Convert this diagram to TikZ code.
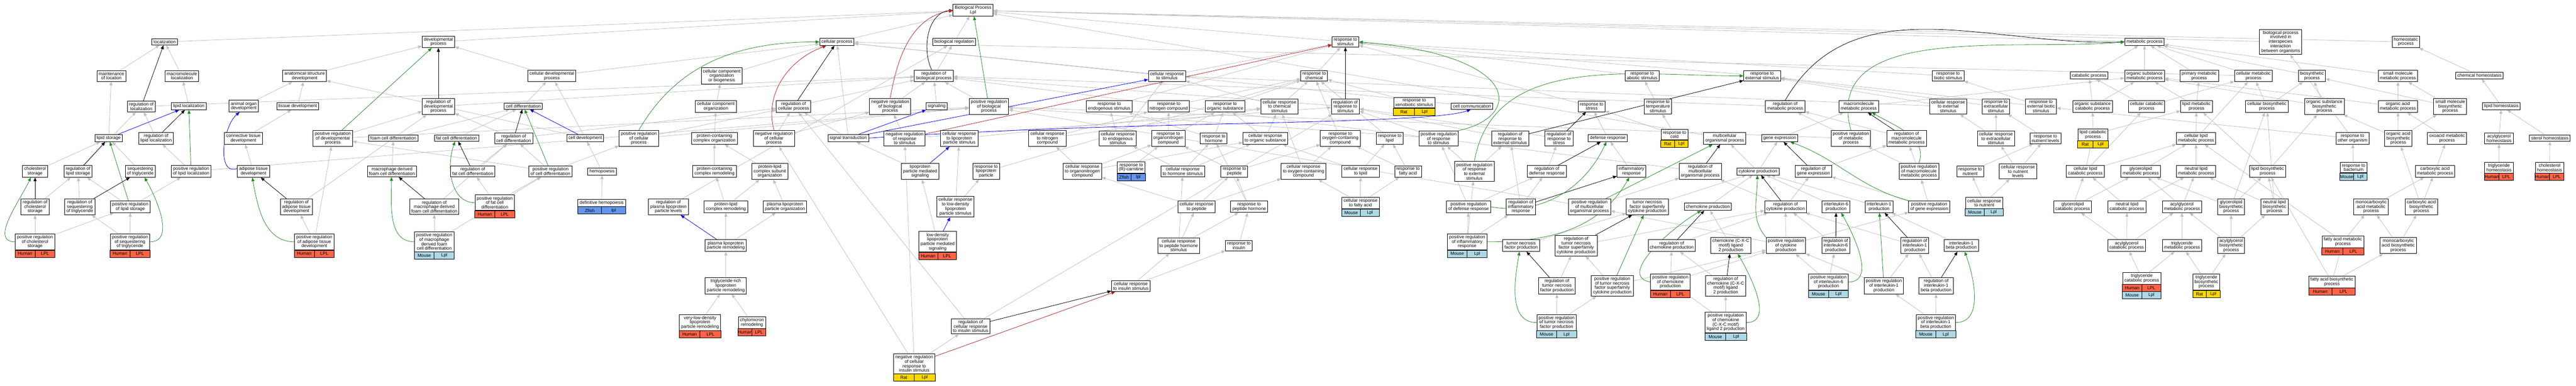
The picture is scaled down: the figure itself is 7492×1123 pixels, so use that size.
\documentclass[tikz,border=0pt]{standalone}
\usepackage{fontspec}
\setmainfont{Liberation Sans}
\usetikzlibrary{arrows.meta,calc}
\pgfdeclarelayer{back}
\pgfdeclarelayer{bg}
\pgfsetlayers{back,bg,main}
\definecolor{eg}{HTML}{C0C0C0}
\definecolor{eb}{HTML}{0000FF}
\definecolor{egr}{HTML}{228B22}
\definecolor{er}{HTML}{B22222}
\definecolor{hum}{HTML}{FF6347}
\definecolor{mou}{HTML}{ADD8E6}
\definecolor{rat}{HTML}{FFD700}
\definecolor{zf}{HTML}{6495ED}
\tikzset{
 box/.style={draw, line width=1.3pt, fill=white, align=center, inner xsep=5pt, inner ysep=4.5pt, font=\fontsize{13}{13}\selectfont},
 celltxt/.style={inner sep=0pt, font=\fontsize{13}{13}\selectfont},
 edge/.style={line width=1.2pt, -{Triangle[length=11pt,width=9pt]}},
 isa/.style={edge, color=eg},
 regl/.style={edge, color=black},
 posr/.style={edge, color=egr},
 negr/.style={edge, color=er},
 partof/.style={edge, color=eb}
}
\newcommand\gcells[5]{%
  \draw[line width=1.3pt, fill=#2] ($(#1.south west)+(0,#5)$) rectangle ($(#1.south east)+(0,#5+21)$);
  \draw[line width=1.3pt] ($(#1.south)+(0,#5)$) -- ++(0,21);
  \node[celltxt] at ($(#1.south west)!0.25!(#1.south east)+(0,#5+10.5)$) {#3};
  \node[celltxt] at ($(#1.south west)!0.75!(#1.south east)+(0,#5+10.5)$) {#4};}
\newcommand\gbox[7]{%
  \node[box] (#1) at (#2,#3) {#4};
  \gcells{#1}{#5}{#6}{#7}{0}}
\begin{document}
\begin{tikzpicture}[x=1pt,y=-1pt]
\useasboundingbox (0,0) rectangle (7492,1123);
\begin{pgfonlayer}{back}
\fill[white] (0,0) rectangle (7492,1123);
\end{pgfonlayer}
% row 0
\node[box] (root) at (2830,30) {Biological Process\\Lpl};
% row 1
\node[box] (loc) at (479,122) {localization};
\node[box] (devp) at (1275,122) {developmental\\process};
\node[box] (cproc) at (2434,122) {cellular process};
\node[box] (breg) at (2775,122) {biological regulation};
\node[box] (rstim) at (3913,122) {response to\\stimulus};
\node[box] (mproc) at (6237,122) {metabolic process};
\node[box] (bpint) at (6633,122) {biological process\\involved in\\interspecies\\interaction\\between organisms};
\node[box] (homp) at (6997,122) {homeostatic\\process};
% row 2
\node[box] (mloc) at (324,221) {maintenance\\of location};
\node[box] (macloc) at (529,221) {macromolecule\\localization};
\node[box] (asd) at (886,221) {anatomical structure\\development};
\node[box] (cdevp) at (1605,221) {cellular developmental\\process};
\node[box] (ccob) at (2099,221) {cellular component\\organization\\or biogenesis};
\node[box] (rbp) at (2716,221) {regulation of\\biological process};
\node[box] (crs) at (3394,221) {cellular response\\to stimulus};
\node[box] (rchem) at (3822,221) {response to\\chemical};
\node[box] (rabio) at (4776,221) {response to\\abiotic stimulus};
\node[box] (rext) at (5125,221) {response to\\external stimulus};
\node[box] (rbio) at (5666,221) {response to\\biotic stimulus};
\node[box] (catp) at (6076,220) {catabolic process};
\node[box] (osmp) at (6237,221) {organic substance\\metabolic process};
\node[box] (pmp) at (6396,221) {primary metabolic\\process};
\node[box] (cmp) at (6554,221) {cellular metabolic\\process};
\node[box] (bsp) at (6724,221) {biosynthetic\\process};
\node[box] (smmp) at (6974,221) {small molecule\\metabolic process};
\node[box] (chom) at (7211,220) {chemical homeostasis};
% row 3
\node[box] (rloc) at (411,310) {regulation of\\localization};
\node[box] (lloc) at (549,309) {lipid localization};
\node[box] (aod) at (709,309) {animal organ\\development};
\node[box] (tisd) at (866,309) {tissue development};
\node[box] (rdevp) at (1275,310) {regulation of\\developmental\\process};
\node[box] (cdiff) at (1522,309) {cell differentiation};
\node[box] (cco) at (2082,310) {cellular component\\organization};
\node[box] (rcp) at (2308,310) {regulation of\\cellular process};
\node[box] (nrbp) at (2589,310) {negative regulation\\of biological\\process};
\node[box] (sig) at (2724,309) {signaling};
\node[box] (prbp) at (2876,310) {positive regulation\\of biological\\process};
\node[box] (rendo) at (3226,310) {response to\\endogenous stimulus};
\node[box] (rnit) at (3399,310) {response to\\nitrogen compound};
\node[box] (rorg) at (3563,310) {response to\\organic substance};
\node[box] (crchem) at (3721,310) {cellular response\\to chemical\\stimulus};
\node[box] (rrs) at (3913,310) {regulation of\\response to\\stimulus};
\gbox{rxeno}{4113}{299}{response to\\xenobiotic stimulus}{rat}{Rat}{Lpl}
\node[box] (ccom) at (4281,309) {cell communication};
\node[box] (rstress) at (4629,310) {response to\\stress};
\node[box] (rtemp) at (4822,310) {response to\\temperature\\stimulus};
\node[box] (rmp) at (5192,310) {regulation of\\metabolic process};
\node[box] (mmp) at (5406,310) {macromolecule\\metabolic process};
\node[box] (crext) at (5666,310) {cellular response\\to external\\stimulus};
\node[box] (rextra) at (5805,310) {response to\\extracellular\\stimulus};
\node[box] (rextbio) at (5936,310) {response to\\external biotic\\stimulus};
\node[box] (oscp) at (6086,310) {organic substance\\catabolic process};
\node[box] (ccp) at (6243,310) {cellular catabolic\\process};
\node[box] (lmp) at (6388,310) {lipid metabolic\\process};
\node[box] (cbsp) at (6593,310) {cellular biosynthetic\\process};
\node[box] (osbp) at (6760,310) {organic substance\\biosynthetic\\process};
\node[box] (oamp) at (6974,310) {organic acid\\metabolic process};
\node[box] (smbp) at (7126,310) {small molecule\\biosynthetic\\process};
\node[box] (lhom) at (7275,309) {lipid homeostasis};
% row 4
\node[box] (lsto) at (316,402) {lipid storage};
\node[box] (rlloc) at (454,403) {regulation of\\lipid localization};
\node[box] (ctd) at (708,403) {connective tissue\\development};
\node[box] (prdevp) at (968,403) {positive regulation\\of developmental\\process};
\node[box] (fcd) at (1144,402) {foam cell differentiation};
\node[box] (fatcd) at (1328,402) {fat cell differentiation};
\node[box] (rcd) at (1494,403) {regulation of\\cell differentiation};
\node[box] (celldev) at (1702,402) {cell development};
\node[box] (prcellp) at (1858,403) {positive regulation\\of cellular\\process};
\node[box] (pcco) at (2078,403) {protein-containing\\complex organization};
\node[box] (nrcp) at (2251,403) {negative regulation\\of cellular\\process};
\node[box] (sigt) at (2467,402) {signal transduction};
\node[box] (nrrs) at (2631,403) {negative regulation\\of response\\to stimulus};
\node[box] (crlp) at (2790,403) {cellular response\\to lipoprotein\\particle stimulus};
\node[box] (crnit) at (3046,403) {cellular response\\to nitrogen\\compound};
\node[box] (crendo) at (3251,403) {cellular response\\to endogenous\\stimulus};
\node[box] (rorgn) at (3398,403) {response to\\organonitrogen\\compound};
\node[box] (rhorm) at (3530,403) {response to\\hormone};
\node[box] (crorg) at (3680,403) {cellular response\\to organic substance};
\node[box] (roxy) at (3898,403) {response to\\oxygen-containing\\compound};
\node[box] (rlip) at (4042,403) {response to\\lipid};
\node[box] (prrs) at (4184,403) {positive regulation\\of response\\to stimulus};
\node[box] (rres) at (4392,403) {regulation of\\response to\\external stimulus};
\node[box] (rrstress) at (4534,403) {regulation of\\response to\\stress};
\node[box] (defr) at (4676,402) {defense response};
\gbox{rcold}{4870}{392}{response to\\cold}{rat}{Rat}{Lpl}
\node[box] (mcop) at (5016,403) {multicellular\\organismal process};
\node[box] (gexp) at (5176,402) {gene expression};
\node[box] (prmp) at (5383,403) {positive regulation\\of metabolic\\process};
\node[box] (rmmp) at (5545,403) {regulation of\\macromolecule\\metabolic process};
\node[box] (crextra) at (5805,403) {cellular response\\to extracellular\\stimulus};
\node[box] (rnutl) at (5949,403) {response to\\nutrient levels};
\gbox{lcat}{6087}{392}{lipid catabolic\\process}{rat}{Rat}{Lpl}
\node[box] (clmp) at (6387,403) {cellular lipid\\metabolic process};
\node[box] (roth) at (6842,403) {response to\\other organism};
\node[box] (oabp) at (6975,403) {organic acid\\biosynthetic\\process};
\node[box] (oxmp) at (7117,403) {oxoacid metabolic\\process};
\node[box] (aghom) at (7268,403) {acylglycerol\\homeostasis};
\node[box] (sthom) at (7416,402) {sterol homeostasis};
% row 5
\node[box] (chsto) at (102,499) {cholesterol\\storage};
\node[box] (rlsto) at (227,499) {regulation of\\lipid storage};
\node[box] (seqt) at (408,499) {sequestering\\of triglyceride};
\node[box] (prlloc) at (556,499) {positive regulation\\of lipid localization};
\node[box] (atd) at (737,499) {adipose tissue\\development};
\node[box] (mdfcd) at (1140,499) {macrophage derived\\foam cell differentiation};
\node[box] (rfatcd) at (1375,499) {regulation of\\fat cell differentiation};
\node[box] (prcd) at (1601,499) {positive regulation\\of cell differentiation};
\node[box] (hemo) at (1751,499) {hemopoiesis};
\node[box] (pcr) at (2078,499) {protein-containing\\complex remodeling};
\node[box] (plcso) at (2239,499) {protein-lipid\\complex subunit\\organization};
\node[box] (lpms) at (2676,499) {lipoprotein\\particle mediated\\signaling};
\node[box] (rlp) at (2868,499) {response to\\lipoprotein\\particle};
\node[box] (crorgn) at (3148,499) {cellular response\\to organonitrogen\\compound};
\gbox{rcarn}{3290}{488}{response to\\(R)-carnitine}{zf}{Zfish}{lpl}
\node[box] (crhorm) at (3440,499) {cellular response\\to hormone stimulus};
\node[box] (rpep) at (3590,499) {response to\\peptide};
\node[box] (croxy) at (3791,499) {cellular response\\to oxygen-containing\\compound};
\node[box] (crlip) at (3957,499) {cellular response\\to lipid};
\node[box] (rfa) at (4095,499) {response to\\fatty acid};
\node[box] (prres) at (4288,499) {positive regulation\\of response\\to external\\stimulus};
\node[box] (rdef) at (4499,499) {regulation of\\defense response};
\node[box] (infl) at (4745,499) {inflammatory\\response};
\node[box] (rmcop) at (4945,499) {regulation of\\multicellular\\organismal process};
\node[box] (cytp) at (5113,499) {cytokine production};
\node[box] (rgexp) at (5274,499) {regulation of\\gene expression};
\node[box] (prmmp) at (5581,499) {positive regulation\\of macromolecule\\metabolic process};
\node[box] (rnut) at (5730,499) {response to\\nutrient};
\node[box] (crnutl) at (5869,499) {cellular response\\to nutrient\\levels};
\node[box] (clcat) at (6065,499) {cellular lipid\\catabolic process};
\node[box] (glmp) at (6226,499) {glycerolipid\\metabolic process};
\node[box] (nlmp) at (6387,499) {neutral lipid\\metabolic process};
\node[box] (lbsp) at (6595,499) {lipid biosynthetic\\process};
\gbox{rbact}{6845}{488}{response to\\bacterium}{mou}{Mouse}{Lpl}
\node[box] (camp) at (7082,499) {carboxylic acid\\metabolic process};
\gbox{tghom}{7268}{488}{triglyceride\\homeostasis}{hum}{Human}{LPL}
\gbox{chhom}{7415}{488}{cholesterol\\homeostasis}{hum}{Human}{LPL}
% row 6
\node[box] (rchsto) at (102,602) {regulation of\\cholesterol\\storage};
\node[box] (rseqt) at (232,602) {regulation of\\sequestering\\of triglyceride};
\node[box] (prlsto) at (379,602) {positive regulation\\of lipid storage};
\node[box] (ratd) at (862,602) {regulation of\\adipose tissue\\development};
\node[box] (rmdfcd) at (1263,602) {regulation of\\macrophage derived\\foam cell differentiation};
\gbox{prfatcd}{1439}{590}{positive regulation\\of fat cell\\differentiation}{hum}{Human}{LPL}
\gbox{defhemo}{1750}{591}{definitive hemopoiesis}{zf}{Zfish}{lpl}
\node[box] (rplpl) at (1944,602) {regulation of\\plasma lipoprotein\\particle levels};
\node[box] (plcr) at (2111,602) {protein-lipid\\complex remodeling};
\node[box] (plpo) at (2283,602) {plasma lipoprotein\\particle organization};
\node[box] (crldl) at (2779,602) {cellular response\\to low-density\\lipoprotein\\particle stimulus};
\node[box] (crpep) at (3480,602) {cellular response\\to peptide};
\node[box] (rph) at (3633,602) {response to\\peptide hormone};
\gbox{crfa}{3957}{591}{cellular response\\to fatty acid}{mou}{Mouse}{Lpl}
\node[box] (prdef) at (4271,602) {positive regulation\\of defense response};
\node[box] (rinfl) at (4423,602) {regulation of\\inflammatory\\response};
\node[box] (prmcop) at (4623,602) {positive regulation\\of multicellular\\organismal process};
\node[box] (tnfsf) at (4791,602) {tumor necrosis\\factor superfamily\\cytokine production};
\node[box] (chemp) at (4967,602) {chemokine production};
\node[box] (rcytp) at (5193,602) {regulation of\\cytokine production};
\node[box] (il6p) at (5340,602) {interleukin-6\\production};
\node[box] (il1p) at (5465,602) {interleukin-1\\production};
\node[box] (prgexp) at (5611,602) {positive regulation\\of gene expression};
\gbox{crnut}{5771}{591}{cellular response\\to nutrient}{mou}{Mouse}{Lpl}
\node[box] (glcat) at (6028,602) {glycerolipid\\catabolic process};
\node[box] (nlcat) at (6186,602) {neutral lipid\\catabolic process};
\node[box] (agmp) at (6346,602) {acylglycerol\\metabolic process};
\node[box] (glbsp) at (6489,602) {glycerolipid\\biosynthetic\\process};
\node[box] (nlbsp) at (6615,602) {neutral lipid\\biosynthetic\\process};
\node[box] (mcamp) at (6896,602) {monocarboxylic\\acid metabolic\\process};
\node[box] (cabsp) at (7042,602) {carboxylic acid\\biosynthetic\\process};
% row 7
\gbox{prchsto}{102}{704}{positive regulation\\of cholesterol\\storage}{hum}{Human}{LPL}
\gbox{prseqt}{378}{704}{positive regulation\\of sequestering\\of triglyceride}{hum}{Human}{LPL}
\gbox{pratd}{914}{704}{positive regulation\\of adipose tissue\\development}{hum}{Human}{LPL}
\gbox{prmdfcd}{1263}{704}{positive regulation\\of macrophage\\derived foam\\cell differentiation}{mou}{Mouse}{Lpl}
\node[box] (plpr) at (2111,715) {plasma lipoprotein\\particle remodeling};
\gbox{ldlsig}{2727}{704}{low-density\\lipoprotein\\particle mediated\\signaling}{hum}{Human}{LPL}
\node[box] (crphs) at (3428,715) {cellular response\\to peptide hormone\\stimulus};
\node[box] (rins) at (3603,715) {response to\\insulin};
\gbox{prinfl}{4267}{704}{positive regulation\\of inflammatory\\response}{mou}{Mouse}{Lpl}
\node[box] (tnfp) at (4424,715) {tumor necrosis\\factor production};
\node[box] (rtnfsf) at (4584,715) {regulation of\\tumor necrosis\\factor superfamily\\cytokine production};
\node[box] (rchemp) at (4862,715) {regulation of\\chemokine production};
\node[box] (cxcl2) at (5034,715) {chemokine (C-X-C\\motif) ligand\\2 production};
\node[box] (prcytp) at (5194,715) {positive regulation\\of cytokine\\production};
\node[box] (ril6) at (5339,715) {regulation of\\interleukin-6\\production};
\node[box] (ril1) at (5569,715) {regulation of\\interleukin-1\\production};
\node[box] (il1bp) at (5704,715) {interleukin-1\\beta production};
\node[box] (agcat) at (6185,715) {acylglycerol\\catabolic process};
\node[box] (tgmp) at (6346,715) {triglyceride\\metabolic process};
\node[box] (agbsp) at (6489,715) {acylglycerol\\biosynthetic\\process};
\gbox{famp}{6814}{704}{fatty acid metabolic\\process}{hum}{Human}{LPL}
\node[box] (mcabsp) at (6975,715) {monocarboxylic\\acid biosynthetic\\process};
% row 8
\node[box] (tgrich) at (2111,832) {triglyceride-rich\\lipoprotein\\particle remodeling};
\node[box] (crins) at (3289,833) {cellular response\\to insulin stimulus};
\node[box] (rtnf) at (4528,832) {regulation of\\tumor necrosis\\factor production};
\node[box] (prtnfsf) at (4689,832) {positive regulation\\of tumor necrosis\\factor superfamily\\cytokine production};
\gbox{prchemp}{4858}{821}{positive regulation\\of chemokine\\production}{hum}{Human}{LPL}
\node[box] (rcxcl2) at (5019,832) {regulation of\\chemokine (C-X-C\\motif) ligand\\2 production};
\gbox{pril6}{5318}{821}{positive regulation\\of interleukin-6\\production}{mou}{Mouse}{Lpl}
\node[box] (pril1) at (5479,832) {positive regulation\\of interleukin-1\\production};
\node[box] (ril1b) at (5631,832) {regulation of\\interleukin-1\\beta production};
\gbox{tgcat}{6229}{810}{triglyceride\\catabolic process}{hum}{Human}{LPL}
\gcells{tgcat}{mou}{Mouse}{Lpl}{21}
\gbox{tgbsp}{6417}{821}{triglyceride\\biosynthetic\\process}{rat}{Rat}{Lpl}
\gbox{fabsp}{6782}{821}{fatty acid biosynthetic\\process}{hum}{Human}{LPL}
% row 9
\gbox{vldl}{2036}{939}{very-low-density\\lipoprotein\\particle remodeling}{hum}{Human}{LPL}
\gbox{chylo}{2187}{939}{chylomicron\\remodeling}{hum}{Human}{LPL}
\node[box] (rcris) at (2823,950) {regulation of\\cellular response\\to insulin stimulus};
\gbox{prtnf}{4527}{939}{positive regulation\\of tumor necrosis\\factor production}{mou}{Mouse}{Lpl}
\gbox{prcxcl2}{5019}{939}{positive regulation\\of chemokine\\(C-X-C motif)\\ligand 2 production}{mou}{Mouse}{Lpl}
\gbox{pril1b}{5630}{939}{positive regulation\\of interleukin-1\\beta production}{mou}{Mouse}{Lpl}
% row 10
\gbox{nrcris}{2659}{1059}{negative regulation\\of cellular\\response to\\insulin stimulus}{rat}{Rat}{Lpl}

\begin{pgfonlayer}{bg}
\foreach \a/\b in {mloc/loc, macloc/loc, lloc/macloc, rloc/rbp, loc/root, lsto/mloc, rlloc/rloc, chsto/lsto, rlsto/rloc, seqt/lsto, prlloc/rlloc, prlloc/prbp, rchsto/rlsto, rseqt/rlsto, prlsto/rlsto, prlsto/prlloc, prchsto/rchsto, prchsto/prlsto, prseqt/prlsto, prseqt/rseqt,
asd/devp, aod/asd, tisd/asd, ctd/tisd, atd/ctd, ratd/rdevp, prdevp/rdevp, prdevp/prbp, fcd/cdiff, mdfcd/fcd, rmdfcd/rcd, pratd/ratd, pratd/prdevp, prmdfcd/rmdfcd, prmdfcd/prcd,
devp/root, rdevp/rbp, cdevp/devp, cdevp/cproc, cdiff/cdevp, celldev/cdevp, celldev/asd, fatcd/cdiff, rcd/rdevp, rcd/rcp, rfatcd/rcd, prcd/rcd, prcd/prcellp, prcd/prdevp, hemo/celldev, defhemo/hemo, prfatcd/rfatcd, prfatcd/prcd, prcellp/rcp, prcellp/prbp,
cproc/root, ccob/cproc, cco/ccob, rcp/rbp, nrcp/rcp, nrcp/nrbp, sigt/cproc, sigt/rcp, pcco/cco, pcr/pcco, plcso/pcco, rplpl/breg, plcr/pcr, plcr/plcso, plpo/plcso, plpr/plcr, plpr/plpo, tgrich/plpr, vldl/tgrich, chylo/tgrich,
breg/root, rbp/breg, nrbp/rbp, sig/rbp, prbp/rbp, nrrs/nrbp, nrrs/rrs, lpms/sigt, crlp/crchem, crldl/crlp, crldl/rlp, rlp/rchem, crnit/rnit, crnit/crchem, crorgn/crnit, crorgn/rorgn, crorgn/crorg, ldlsig/lpms, rcris/rcp, rcris/rrs, nrcris/rcris, nrcris/nrcp, nrcris/nrrs,
crs/rstim, crs/cproc, rendo/rstim, rnit/rchem, rorg/rchem, crchem/rchem, crchem/crs, crendo/rendo, crendo/crs, rorgn/rnit, rorgn/rorg, rhorm/rendo, rhorm/rorg, crorg/rorg, crorg/crchem, rcarn/rorgn, crhorm/rhorm, crhorm/crendo, crhorm/crorg, rpep/rorgn, rpep/roxy, crpep/rpep, crpep/crorgn, crpep/croxy, rph/rpep, rph/rhorm, crphs/crpep, crphs/rph, crphs/crhorm, rins/rph, crins/crphs, crins/rins,
rstim/root, rchem/rstim, rrs/rbp, rxeno/rchem, ccom/cproc, roxy/rchem, rlip/rchem, croxy/roxy, croxy/crchem, prrs/rrs, prrs/prbp, rres/rrs, crlip/rlip, crlip/crorg, rfa/rlip, rfa/roxy, crfa/crlip, crfa/rfa, crfa/croxy, prres/prrs, prres/rres, prdef/prrs, prdef/rdef, prinfl/prdef, prinfl/prres, prinfl/rinfl,
rabio/rstim, rstress/rstim, rtemp/rabio, rcold/rtemp, rcold/rstress, rrstress/rrs, defr/rstress, infl/defr, rdef/rrstress, rinfl/rdef, rinfl/rres, mcop/root, rmcop/rbp, prmcop/rmcop, prmcop/prbp, tnfsf/cytp, chemp/cytp, tnfp/tnfsf, rtnfsf/rcytp, rchemp/rcytp, cxcl2/chemp, rtnf/rtnfsf, prtnfsf/rtnfsf, prtnfsf/prcytp, prchemp/rchemp, prchemp/prcytp, rcxcl2/rchemp, prtnf/rtnf, prtnf/prtnfsf, prcxcl2/rcxcl2, prcxcl2/prchemp,
rext/rstim, rmp/rbp, mmp/osmp, gexp/mmp, prmp/rmp, prmp/prbp, rmmp/rmp, cytp/mcop, cytp/gexp, rgexp/rmmp, prmmp/rmmp, prmmp/prmp, rcytp/rgexp, rcytp/rmcop, il6p/cytp, il1p/cytp, prgexp/rgexp, prgexp/prmmp, prcytp/rcytp, prcytp/prmcop, prcytp/prgexp, ril6/rcytp, ril1/rcytp, pril6/ril6, pril6/prcytp, pril1/ril1, pril1/prcytp, ril1b/ril1, pril1b/pril1, pril1b/ril1b, il1bp/il1p,
mproc/root, catp/mproc, osmp/mproc, rbio/rstim, crext/rext, crext/crs, rextra/rext, rextbio/rbio, rextbio/rext, oscp/catp, oscp/osmp, ccp/catp, ccp/cmp, crextra/rextra, crextra/crext, rnutl/rextra, lcat/oscp, lcat/lmp, rnut/rnutl, crnutl/rnutl, crnutl/crextra, clcat/lcat, clcat/ccp, clcat/clmp, glmp/clmp, crnut/rnut, crnut/crnutl, glcat/clcat, glcat/glmp, nlcat/clcat, nlcat/nlmp, agcat/glcat, agcat/nlcat, agcat/agmp, tgcat/agcat, tgcat/tgmp,
bpint/root, pmp/mproc, cmp/mproc, cmp/cproc, bsp/mproc, lmp/pmp, lmp/osmp, cbsp/cmp, cbsp/bsp, osbp/bsp, osbp/osmp, clmp/lmp, clmp/cmp, roth/bpint, roth/rextbio, nlmp/clmp, lbsp/lmp, lbsp/osbp, rbact/roth, agmp/nlmp, agmp/glmp, glbsp/lbsp, glbsp/glmp, glbsp/cbsp, nlbsp/lbsp, nlbsp/nlmp, nlbsp/cbsp, mcamp/camp, tgmp/agmp, agbsp/glbsp, agbsp/nlbsp, agbsp/agmp, famp/mcamp, famp/clmp, tgbsp/tgmp, tgbsp/agbsp, fabsp/famp, fabsp/lbsp, fabsp/mcabsp,
homp/root, smmp/mproc, chom/homp, oamp/smmp, oamp/osmp, smbp/smmp, smbp/bsp, lhom/chom, oabp/oamp, oabp/smbp, oabp/osbp, oxmp/oamp, aghom/lhom, sthom/lhom, camp/oxmp, tghom/aghom, chhom/sthom, cabsp/camp, cabsp/oabp, mcabsp/mcamp, mcabsp/cabsp}
  \draw[isa] (\a) -- (\b);
\foreach \a/\b in {rloc/loc, rlloc/lloc, rlsto/lsto, rchsto/chsto, rseqt/seqt, ratd/atd, rmdfcd/mdfcd, rfatcd/fatcd, rcd/cdiff, rdevp/devp, rcp/cproc, rrs/rstim, rres/rext, rrstress/rstress, rdef/defr, rinfl/infl, rmcop/mcop, rtnfsf/tnfsf, rchemp/chemp, rtnf/tnfp, rcxcl2/cxcl2, rcytp/cytp, rgexp/gexp, rmmp/mmp, ril6/il6p, ril1/il1p, ril1b/il1bp, rcris/crins}
  \draw[regl] (\a) -- (\b);
\foreach \a/\b in {prlloc/lloc, prlsto/lsto, prdevp/devp, prcd/cdiff, prbp/root, prmcop/mcop, prtnfsf/tnfsf, pril1/il1p}
  \draw[posr] (\a) -- (\b);
\foreach \a/\b in {nrrs/rstim, nrcris/crins}
  \draw[negr] (\a) -- (\b);
\foreach \a/\b in {lsto/lloc, celldev/cdiff, sigt/sig, sigt/crs, lpms/crlp, ldlsig/crldl, plpr/rplpl}
  \draw[partof] (\a) -- (\b);
% curved connectors
\draw[partof] (sigt.east) .. controls (3300,350) and (4150,365) .. (ccom.-110);
\draw[partof] (atd.170) to[out=200,in=-140] (aod.-125);
\draw[regl] (rbp.110) to[out=115,in=185] (root.west);
\draw[regl] (rmp.north) to[out=60,in=182] (mproc.west);
\draw[negr] (nrbp.north) to[out=80,in=190] (root.west);
\draw[negr] (nrcp.north) to[out=105,in=200] (cproc.-160);
\draw[posr] (prchsto.west) to[out=180,in=-115] (chsto.-125);
\draw[posr] (prseqt.east) to[out=0,in=-60] (seqt.-55);
\draw[posr] (pratd.west) to[out=180,in=-80] (atd.-100);
\draw[posr] (prmdfcd.west) to[out=180,in=-90] (mdfcd.-95);
\draw[posr] (prfatcd.west) to[out=180,in=-110] (fatcd.-115);
\draw[posr] (prcellp.north) to[out=60,in=180] (cproc.west);
\draw[posr] (prrs.north east) .. controls (4430,340) and (4430,160) .. (rstim.east);
\draw[posr] (prres.north) to[out=80,in=180] (rext.west);
\draw[posr] (prmp.north) to[out=105,in=185] (mproc.west);
\draw[posr] (prmmp.north) to[out=70,in=-30] (mmp.-25);
\draw[posr] (prtnf.west) to[out=180,in=-100] (tnfp.-105);
\draw[posr] (pril6.east) to[out=0,in=-60] (il6p.-50);
\draw[posr] (prcxcl2.east) to[out=0,in=-60] (cxcl2.-50);
\draw[posr] (pril1b.east) to[out=0,in=-70] (il1bp.-60);
\draw[posr] (prcytp.north west) to[out=130,in=-90] (cytp.-100);
\draw[posr] (prchemp.west) to[out=170,in=-150] (chemp.-150);
\draw[posr] (prgexp.north west) to[out=165,in=-20] (gexp.-20);
\draw[posr] (prdef.east) to[out=-10,in=-115] (defr.-110);
\draw[posr] (prinfl.east) to[out=0,in=-120] (infl.-110);
\end{pgfonlayer}
\end{tikzpicture}
\end{document}
